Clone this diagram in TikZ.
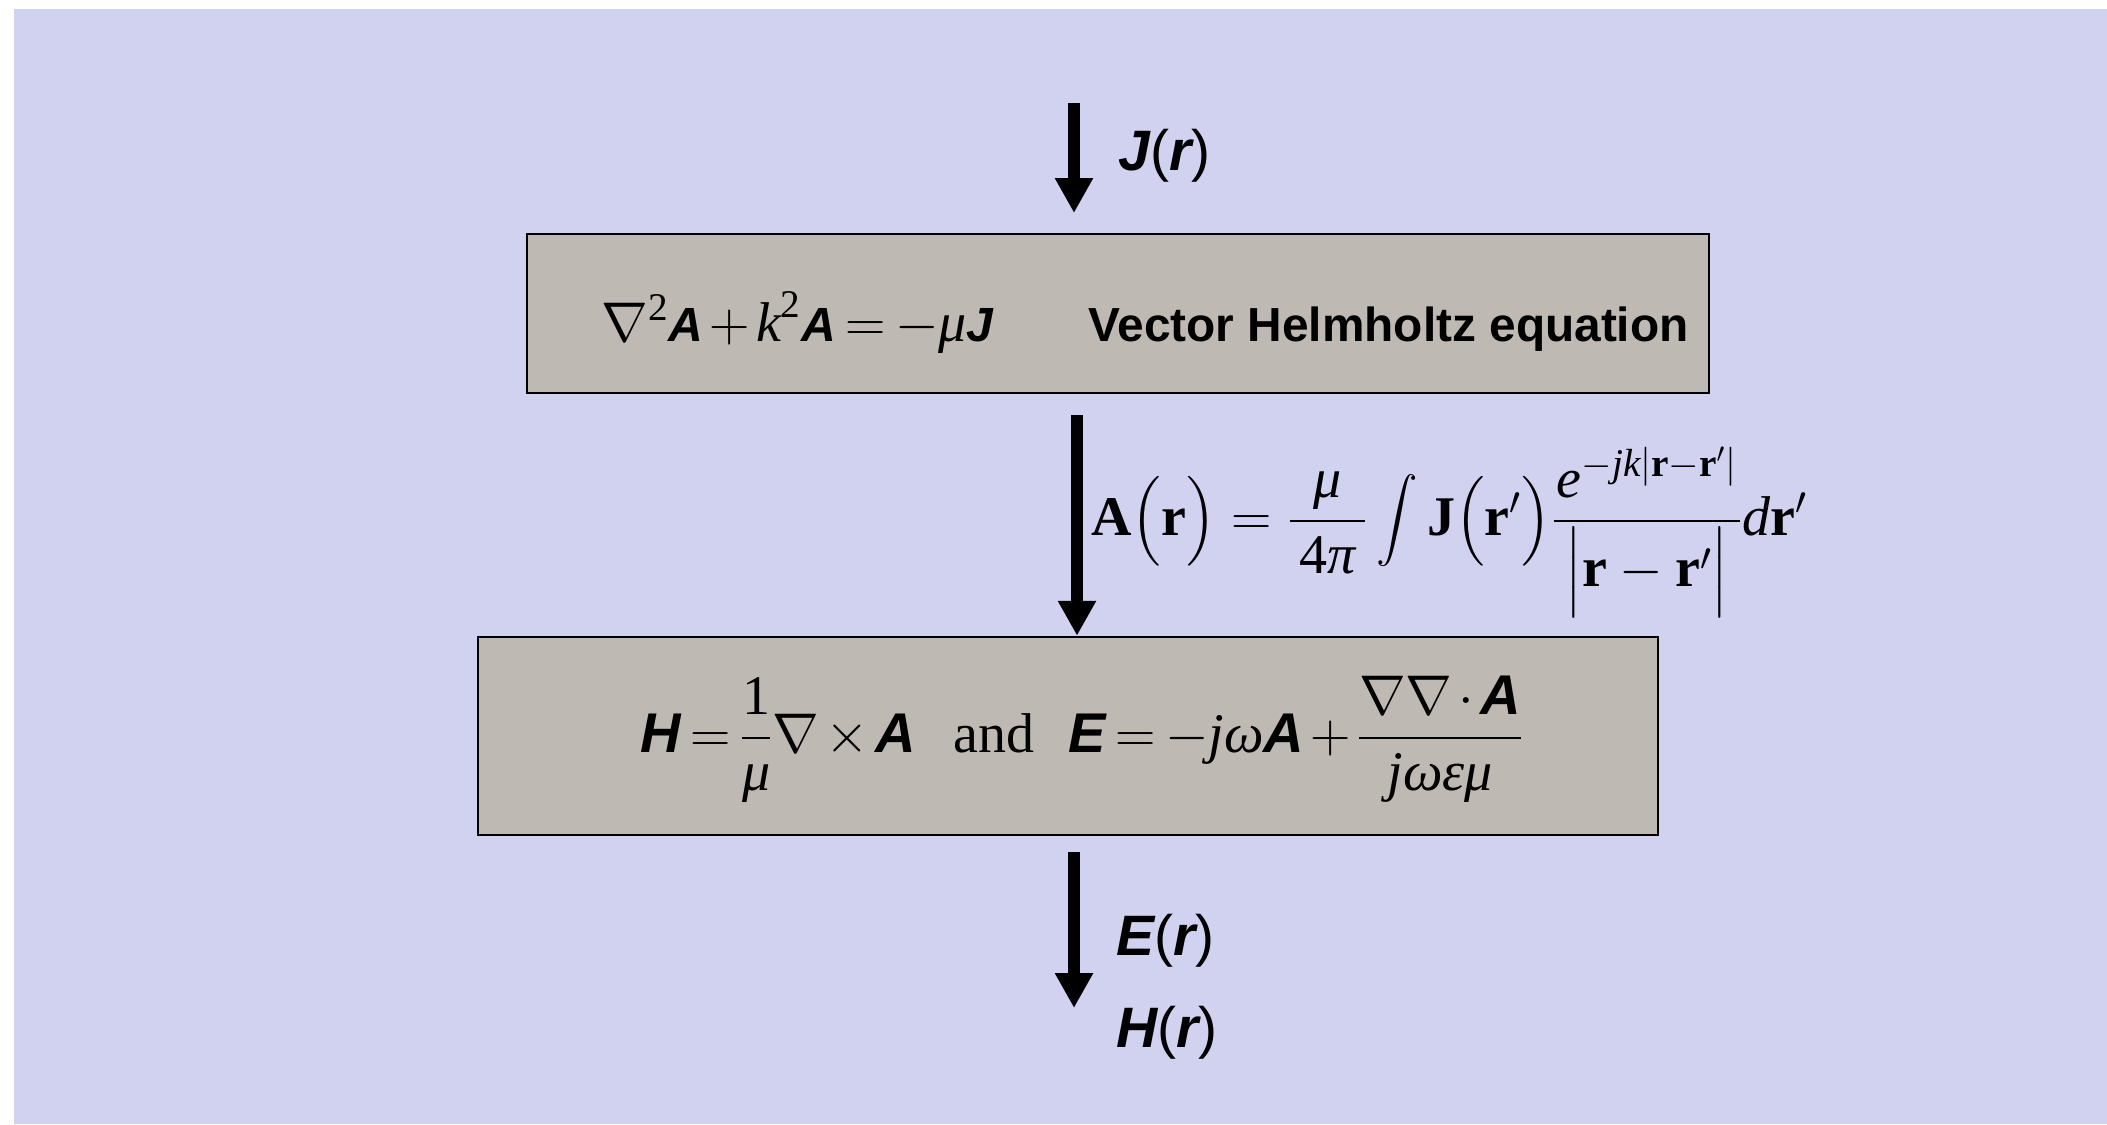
\RequirePackage{fix-cm}
\documentclass[tikz,border=0pt]{standalone}
\usepackage{amsmath}
\usepackage{fontspec}
\setmainfont{Liberation Serif}
\newfontfamily\arialf{Liberation Sans}
\usetikzlibrary{arrows.meta}
\definecolor{bgc}{RGB}{209,210,239}
\definecolor{boxc}{RGB}{191,185,179}
\newcommand\bsi[1]{\text{\arialf\bfseries\itshape #1}}
\newcommand\tit[1]{\text{\itshape #1}}
\newcommand\tbf[1]{\text{\bfseries #1}}
\newcommand\lbl[1]{{\arialf\bfseries\itshape #1}}
\newcommand\lpar[1]{{\arialf\mdseries\upshape #1}}
\newcommand\bigint{\mathop{\raisebox{1.75pt}{\fontsize{21}{25}\selectfont$\displaystyle\int$}}}
\newcommand\tightsp{\medmuskip=2mu\relax\thickmuskip=3mu\relax}
\newcommand\padfrac[3]{\dfrac{\mkern#1mu#2\mkern#1mu}{\mkern#1mu#3\mkern#1mu}}
\begin{document}
\begin{tikzpicture}[x=0.5pt,y=-0.5pt,
  eqbox/.style={draw=black, line width=1.25pt, fill=boxc, rectangle, inner sep=0pt},
  flow/.style={line width=6pt, -{Triangle[length=17.5pt,width=18pt]}},
  txt/.style={inner sep=0pt, anchor=base west},
  eqfont/.style={font=\fontsize{28}{34}\selectfont},
  lblfont/.style={font=\fontsize{28.5}{34}\selectfont}]
\useasboundingbox (0,0) rectangle (2107,1124);
\fill[white] (0,0) rectangle (2107,1124);
\fill[bgc] (14,9) rectangle (2107,1124);
% boxes
\node[eqbox, minimum width=591pt, minimum height=79.5pt] (box1) at (1118,313.5) {};
\node[eqbox, minimum width=590pt, minimum height=99pt] (box2) at (1068,736) {};
% arrow end points
\coordinate (a1s) at (1074,103);
\coordinate (a1e) at (1074,213);
\coordinate (a2s) at (1077,415);
\coordinate (a3s) at (1074,852);
\coordinate (a3e) at (1074,1008);
\draw[flow] (a1s) -- (a1e);
\draw[flow] (a2s) -- (a2s |- box2.north);
\draw[flow] (a3s) -- (a3e);
% labels
\node[txt, lblfont] (jr) at (1118,170) {\lbl{J}\lpar{(}\lbl{r}\lpar{)}};
\node[txt, lblfont] (er) at (1116,955) {\lbl{E}\lpar{(}\lbl{r}\lpar{)}};
\node[txt, lblfont] (hr) at (1116,1047) {\lbl{H}\lpar{(}\lbl{r}\lpar{)}};
% box 1 contents
\node[txt, eqfont] (helmeq) at (601,341) {\tightsp$\nabla^{\text{2}}{\fontsize{24}{28}\selectfont\bsi{A}}+\tit{k}^{\text{2}}{\fontsize{24}{28}\selectfont\bsi{A}}=-\tit{μ}{\fontsize{24}{28}\selectfont\bsi{J}}$};
\node[txt, font=\arialf\bfseries\fontsize{23.9}{28}\selectfont] (helmtxt) at (1088,341) {Vector Helmholtz equation};
% potential integral
\node[txt, eqfont] (aint) at (1091,535) {$\tbf{A}\bigl(\tbf{r}\bigr)=\padfrac{3}{\tit{μ}}{\text{4}\tit{π}}\bigint\tbf{J}\bigl(\tbf{r}'\bigr)\padfrac{1}{\tit{e}^{-\tit{jk}|\tbf{r}-\tbf{r}'|}}{\bigl|\tbf{r}-\tbf{r}'\bigr|}\tit{d}\tbf{r}'$};
% box 2 contents
\node[txt, eqfont] (fields) at (640,752) {\tightsp$\bsi{H}=\dfrac{\text{1}}{\tit{μ}}\nabla\times\bsi{A}\hspace{19pt}\text{and}\hspace{17pt}\bsi{E}=-\tit{jω}\bsi{A}+\dfrac{\nabla\nabla\cdot\bsi{A}}{\tit{jωεμ}}$};
\end{tikzpicture}
\end{document}
